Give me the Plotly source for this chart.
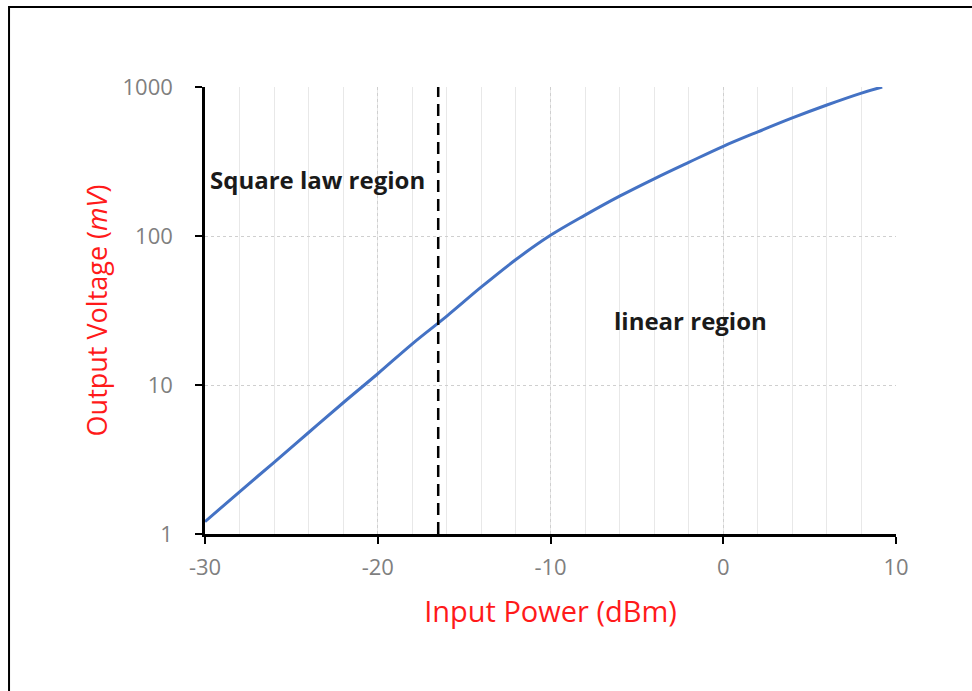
import plotly.graph_objects as go

# Detector transfer curve: input power (dBm) vs output voltage (mV)
power_dbm = [-30, -28, -26, -24, -22, -20, -18, -16, -14, -12, -10,
             -8, -6, -4, -2, 0, 2, 4, 6, 8, 9.2]
voltage_mv = [1.21, 1.92, 3.03, 4.8, 7.6, 11.9, 18.9, 29.0, 45.5, 69.5, 101,
              138, 185, 242, 312, 400, 500, 620, 757, 910, 1000]

# Boundary between square-law and linear operation
boundary_x = [-16.5, -16.5]
boundary_y = [1, 1000]

x_ticks = [-30, -20, -10, 0, 10]
y_ticks = [1, 10, 100, 1000]

FONT = "'Open Sans', sans-serif"
TICK_COLOR = "#7f7f7f"

fig = go.Figure()

fig.add_trace(go.Scatter(
    x=power_dbm, y=voltage_mv, mode="lines",
    line=dict(color="#4472C4", width=3, shape="spline", smoothing=1.0),
    showlegend=False,
))

fig.add_trace(go.Scatter(
    x=boundary_x, y=boundary_y, mode="lines",
    line=dict(color="black", width=2.5, dash="12px,7px"),
    showlegend=False, cliponaxis=False,
))

# outer chart frame
fig.add_shape(type="rect", xref="paper", yref="paper",
              x0=-0.2836, x1=1.125, y0=-0.38, y1=1.179,
              line=dict(color="black", width=2), layer="below")

fig.add_annotation(x=-29.8, y=2.376, xref="x", yref="y",
                   text="<b>Square law region</b>", showarrow=False,
                   xanchor="left", yanchor="middle",
                   font=dict(family=FONT, size=24, color="#1a1a1a"))
fig.add_annotation(x=-6.44, y=1.43, xref="x", yref="y",
                   text="<b>linear region</b>", showarrow=False,
                   xanchor="left", yanchor="middle",
                   font=dict(family=FONT, size=24, color="#1a1a1a"))

fig.update_xaxes(
    range=[-30, 10], tickvals=x_ticks, ticktext=[str(v) for v in x_ticks],
    showline=True, linecolor="black", linewidth=2.5,
    ticks="outside", ticklen=7, tickwidth=2, tickcolor="black",
    ticklabelstandoff=5,
    tickfont=dict(family=FONT, size=22, color=TICK_COLOR),
    showgrid=True, gridcolor="#cfcfcf", griddash="dot", gridwidth=1,
    minor=dict(dtick=2, showgrid=True, gridcolor="#e8e8e8", gridwidth=1,
               griddash="solid"),
    zeroline=False,
    title=dict(text="Input Power (dBm)", standoff=22,
               font=dict(family=FONT, size=29, color="#ff1a1a")),
)

fig.update_yaxes(
    type="log", range=[0, 3], tickvals=y_ticks, ticktext=[str(v) for v in y_ticks],
    showline=True, linecolor="black", linewidth=2.5,
    ticks="outside", ticklen=7, tickwidth=2, tickcolor="black",
    ticklabelstandoff=18,
    tickfont=dict(family=FONT, size=22, color=TICK_COLOR),
    showgrid=True, gridcolor="#cfcfcf", griddash="dot", gridwidth=1,
    zeroline=False,
    title=dict(text="Output Voltage (<i>mV</i>)", standoff=8,
               font=dict(family=FONT, size=27, color="#ff1a1a")),
)

fig.update_layout(
    width=972, height=691,
    margin=dict(l=205, r=76, t=87, b=157),
    paper_bgcolor="white", plot_bgcolor="white",
    font=dict(family=FONT),
)

fig.write_html("out.html")
